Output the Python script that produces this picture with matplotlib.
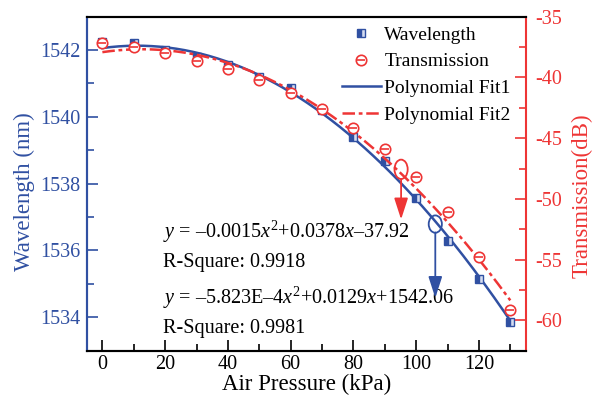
import numpy as np
import matplotlib
matplotlib.use("Agg")
import matplotlib.pyplot as plt
from matplotlib.patches import Ellipse

plt.rcParams['font.family'] = 'Liberation Serif'
plt.rcParams['mathtext.fontset'] = 'custom'
plt.rcParams['mathtext.rm'] = 'Liberation Serif'
plt.rcParams['mathtext.it'] = 'Liberation Serif:italic'
plt.rcParams['axes.unicode_minus'] = False

# data
pressure = [0, 10, 20, 30, 40, 50, 60, 70, 80, 90, 100, 110, 120, 130]
wavelength = [1542.25, 1542.22, 1541.99, 1541.79, 1541.55, 1541.19, 1540.87,
              1540.20, 1539.41, 1538.67, 1537.57, 1536.27, 1535.15, 1533.87]
transmission = [-37.14, -37.47, -38.01, -38.62, -39.33, -40.25, -41.30,
                -42.62, -44.18, -45.91, -48.17, -51.05, -54.75, -59.14]

# polynomial fit coefficients (highest order first), as printed on the chart
fit1_coef = [-5.823e-4, 0.0129, 1542.06]
fit2_coef = [-0.0015, 0.0378, -37.92]

eq1_text = r'$y$ = –0.0015$x^2$+0.0378$x$–37.92'
r1_text = 'R-Square: 0.9918'
eq2_text = r'$y$ = –5.823E–4$x^2$+0.0129$x$+1542.06'
r2_text = 'R-Square: 0.9981'

BLUE = '#3050A2'
RED = '#EE3535'

fig = plt.figure(figsize=(5.95, 4.03), dpi=100)
ax1 = fig.add_axes([0.1457, 0.1298, 0.7383, 0.8288])
ax2 = ax1.twinx()

xf = np.linspace(0, 130, 200)
l1, = ax1.plot(xf, np.polyval(fit1_coef, xf), color=BLUE, lw=1.8, zorder=2)
m1, = ax1.plot(pressure, wavelength, ls='none', marker='s', ms=5.5,
               fillstyle='left', mfc=BLUE, mfcalt='#d5dcf0', mec=BLUE,
               mew=1.0, zorder=3)

l2, = ax2.plot(xf, np.polyval(fit2_coef, xf), color=RED, lw=1.8,
               ls=(0, (5, 1.5, 1.5, 1.5)), zorder=2)
m2, = ax2.plot(pressure, transmission, ls='none', marker='o', ms=7.5,
               mfc='white', mec=RED, mew=1.2, zorder=3)
m2b, = ax2.plot(pressure, transmission, ls='none', marker='_', ms=6,
                mec=RED, mew=1.2, zorder=4)

# annotations: ellipses and arrows
arrow_style = '-|>,head_length=1.3,head_width=0.42'
ax1.add_patch(Ellipse((95.2, 1538.43), 4.2, 0.58, fill=False, ec=RED, lw=1.3, zorder=5))
ax1.annotate('', xy=(95.2, 1536.93), xytext=(95.2, 1538.14),
             arrowprops=dict(arrowstyle=arrow_style, color=RED, lw=1.3,
                             shrinkA=0, shrinkB=0), zorder=5)
ax1.add_patch(Ellipse((106.1, 1536.79), 4.2, 0.52, fill=False, ec=BLUE, lw=1.3, zorder=5))
ax1.annotate('', xy=(106.1, 1534.58), xytext=(106.1, 1536.54),
             arrowprops=dict(arrowstyle=arrow_style, color=BLUE, lw=1.3,
                             shrinkA=0, shrinkB=0), zorder=5)

# equations
for txt, yy in [(eq1_text, 0.338), (r1_text, 0.2515), (eq2_text, 0.139), (r2_text, 0.052)]:
    ax1.text(0.1737, yy, txt, transform=ax1.transAxes, fontsize=14.5,
             ha='left', va='baseline', color='black')

# axes limits and ticks
ax1.set_xlim(-5, 135)
ax1.set_ylim(1533, 1543)
ax2.set_ylim(-62.5, -35)
ax1.set_xticks([0, 20, 40, 60, 80, 100, 120])
ax1.set_xticks([10, 30, 50, 70, 90, 110, 130], minor=True)
ax1.set_yticks([1534, 1536, 1538, 1540, 1542])
ax1.set_yticks([1533, 1535, 1537, 1539, 1541, 1543], minor=True)
ax2.set_yticks([-60, -55, -50, -45, -40, -35])
ax2.set_yticks([-62.5, -57.5, -52.5, -47.5, -42.5, -37.5], minor=True)

ax1.tick_params(axis='x', which='both', direction='in', top=False, colors='black',
                labelsize=14.5, pad=3, width=1.2)
ax1.tick_params(axis='x', which='major', length=8)
ax1.tick_params(axis='x', which='minor', length=5)
ax1.tick_params(axis='y', which='both', direction='in', colors=BLUE,
                labelsize=14.5, pad=4.5, width=1.2)
ax1.tick_params(axis='y', which='major', length=8)
ax1.tick_params(axis='y', which='minor', length=5)
ax2.tick_params(axis='y', which='both', direction='in', colors=RED,
                labelsize=14.5, pad=7, width=1.2)
ax2.tick_params(axis='y', which='major', length=8)
ax2.tick_params(axis='y', which='minor', length=5)

for ax in (ax1, ax2):
    for s in ax.spines.values():
        s.set_linewidth(1.5)
ax2.spines['left'].set_color(BLUE)
ax2.spines['right'].set_color(RED)
ax2.spines['top'].set_color('black')
ax2.spines['bottom'].set_color('black')
ax1.spines['left'].set_color(BLUE)
ax1.spines['right'].set_visible(False)

ax1.set_xlabel('Air Pressure (kPa)', fontsize=16.5, color='black')
ax1.xaxis.set_label_coords(0.5, -0.0997)
ax1.xaxis.label.set_va('center')
ax1.set_ylabel('Wavelength (nm)', fontsize=16.5, color=BLUE)
ax1.yaxis.set_label_coords(-0.1427, 0.475)
ax1.yaxis.label.set_va('center')
ax2.set_ylabel('Transmission(dB)', fontsize=16.5, color=RED)
ax2.yaxis.set_label_coords(1.1286, 0.463)
ax2.yaxis.label.set_va('center')

ax2.legend([m1, (m2, m2b), l1, l2],
           ['Wavelength', 'Transmission', 'Polynomial Fit1', 'Polynomial Fit2'],
           loc='upper left', bbox_to_anchor=(0.5805, 0.972), frameon=False,
           fontsize=14, borderpad=0, borderaxespad=0, handlelength=2.0,
           handletextpad=0.2, labelspacing=0.47, numpoints=1)

fig.savefig('out.png', dpi=100)
